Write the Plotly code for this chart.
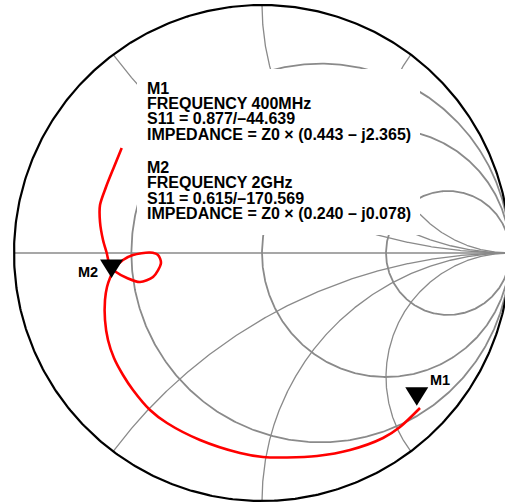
import numpy as np
import plotly.graph_objects as go

# ---- Smith chart grid values ----
resistance_circles = [0.31, 1.0, 3.0]
reactance_arcs = [0.5, 1.0, 2.0, -0.5, -1.0, -2.0]

# ---- S11 trace (reflection coefficient), starting at the 400MHz end ----
s11_re = [0.6371, 0.5565, 0.4879, 0.3548, 0.2218, 0.1008, 0.0040, -0.0887, -0.2500, -0.3831,
          -0.4516, -0.5202, -0.5605, -0.5968, -0.6210, -0.6331, -0.6331, -0.6250, -0.6129, -0.5927,
          -0.5605, -0.5202, -0.4516, -0.4194, -0.4073, -0.4395, -0.4919, -0.5444, -0.5887, -0.6129,
          -0.6262, -0.6411, -0.6532, -0.6532, -0.6290, -0.5968, -0.5657]
s11_im = [-0.6250, -0.7016, -0.7460, -0.7944, -0.8185, -0.8246, -0.8226, -0.8065, -0.7540, -0.6855,
          -0.6331, -0.5524, -0.4919, -0.4234, -0.3508, -0.2702, -0.1895, -0.1371, -0.1008, -0.0605,
          -0.0282, -0.0081, 0.0020, -0.0081, -0.0403, -0.0968, -0.1169, -0.1008, -0.0766, -0.0524,
          0.0000, 0.0524, 0.1250, 0.1935, 0.2661, 0.3468, 0.4234]

# ---- markers ----
marker_names = ["M1", "M2"]
marker_freq = ["400MHz", "2GHz"]
marker_mag = [0.877, 0.615]
marker_ang = [-44.639, -170.569]
marker_z = ["0.443 – j2.365", "0.240 – j0.078"]

W, H = 505, 502
CX, CY, R = 262.0, 253.0, 248.0   # pixel position of chart centre and radius
xr = [-CX / R, (W - CX) / R]
yr = [-(H - CY) / R, CY / R]

GRID = "#8a8a8a"
fig = go.Figure()

# resistance circles
th = np.linspace(0, 2 * np.pi, 600)
for r in resistance_circles:
    c, rad = r / (1 + r), 1 / (1 + r)
    fig.add_trace(go.Scatter(x=c + rad * np.cos(th), y=rad * np.sin(th), mode="lines",
                             line=dict(color=GRID, width=1.8), hoverinfo="skip"))

# reactance arcs
t = np.tan(np.linspace(0, np.pi / 2 - 1e-4, 800))
for xv in reactance_arcs:
    z = t + 1j * xv
    g = (z - 1) / (z + 1)
    fig.add_trace(go.Scatter(x=g.real, y=g.imag, mode="lines",
                             line=dict(color=GRID, width=1.3), hoverinfo="skip"))

# real axis (x = 0)
g0 = (t - 1) / (t + 1)
fig.add_trace(go.Scatter(x=np.concatenate([[-1.0], g0]), y=np.zeros(len(g0) + 1), mode="lines",
                         line=dict(color=GRID, width=1.4), hoverinfo="skip"))

# outer circle (r = 0)
fig.add_trace(go.Scatter(x=np.cos(th), y=np.sin(th), mode="lines",
                         line=dict(color="black", width=2.2), hoverinfo="skip"))

# S11 trace
fig.add_trace(go.Scatter(x=s11_re, y=s11_im, mode="lines",
                         line=dict(color="#ff0000", width=2.6, shape="spline", smoothing=0.8),
                         hoverinfo="skip"))

shapes = []
# white label panel over the grid
shapes.append(dict(type="rect", xref="paper", yref="paper",
                   x0=137 / W, x1=420 / W, y0=1 - 235 / H, y1=1 - 69 / H,
                   fillcolor="white", line=dict(width=0), layer="above"))

annotations = []
font_main = dict(family="Liberation Sans, Arial, Helvetica, sans-serif", size=16, color="black", weight="bold")
font_lbl = dict(family="Liberation Sans, Arial, Helvetica, sans-serif", size=14.5, color="black", weight="bold")

label_shift = [(23, 26), (-24, 6)]
block_base = [93.5, 172.8]
for i, name in enumerate(marker_names):
    a = np.deg2rad(marker_ang[i])
    gx, gy = marker_mag[i] * np.cos(a), marker_mag[i] * np.sin(a)
    shapes.append(dict(type="path", xref="x", yref="y", xsizemode="pixel", ysizemode="pixel",
                       xanchor=gx, yanchor=gy, path="M-11.5,18.5 L11.5,18.5 L0,0 Z",
                       fillcolor="black", line=dict(width=0), layer="above"))
    annotations.append(dict(x=gx, y=gy, xref="x", yref="y", text=name, showarrow=False,
                            xanchor="center", yanchor="middle", xshift=label_shift[i][0],
                            yshift=label_shift[i][1], font=font_lbl, borderpad=0))
    ang_txt = f"{marker_ang[i]:.3f}".replace("-", "–")
    lines = [name, f"FREQUENCY {marker_freq[i]}", f"S11 = {marker_mag[i]:.3f}/{ang_txt}",
             f"IMPEDANCE = Z0 × ({marker_z[i]})"]
    for k, txt in enumerate(lines):
        base = block_base[i] + 15.45 * k
        annotations.append(dict(x=146.4 / W, y=1 - (base - 5.5) / H, xref="paper", yref="paper",
                                text=txt, showarrow=False, xanchor="left", yanchor="middle",
                                font=font_main, borderpad=0))

fig.update_layout(width=W, height=H, margin=dict(l=0, r=0, t=0, b=0),
                  paper_bgcolor="white", plot_bgcolor="white", showlegend=False,
                  xaxis=dict(range=xr, visible=False, showgrid=False, zeroline=False, fixedrange=True),
                  yaxis=dict(range=yr, visible=False, showgrid=False, zeroline=False, fixedrange=True),
                  shapes=shapes, annotations=annotations)

fig.write_html("out.html", config={"displayModeBar": False},
               post_script="document.body.style.margin='0px';document.body.style.overflow='hidden';")
